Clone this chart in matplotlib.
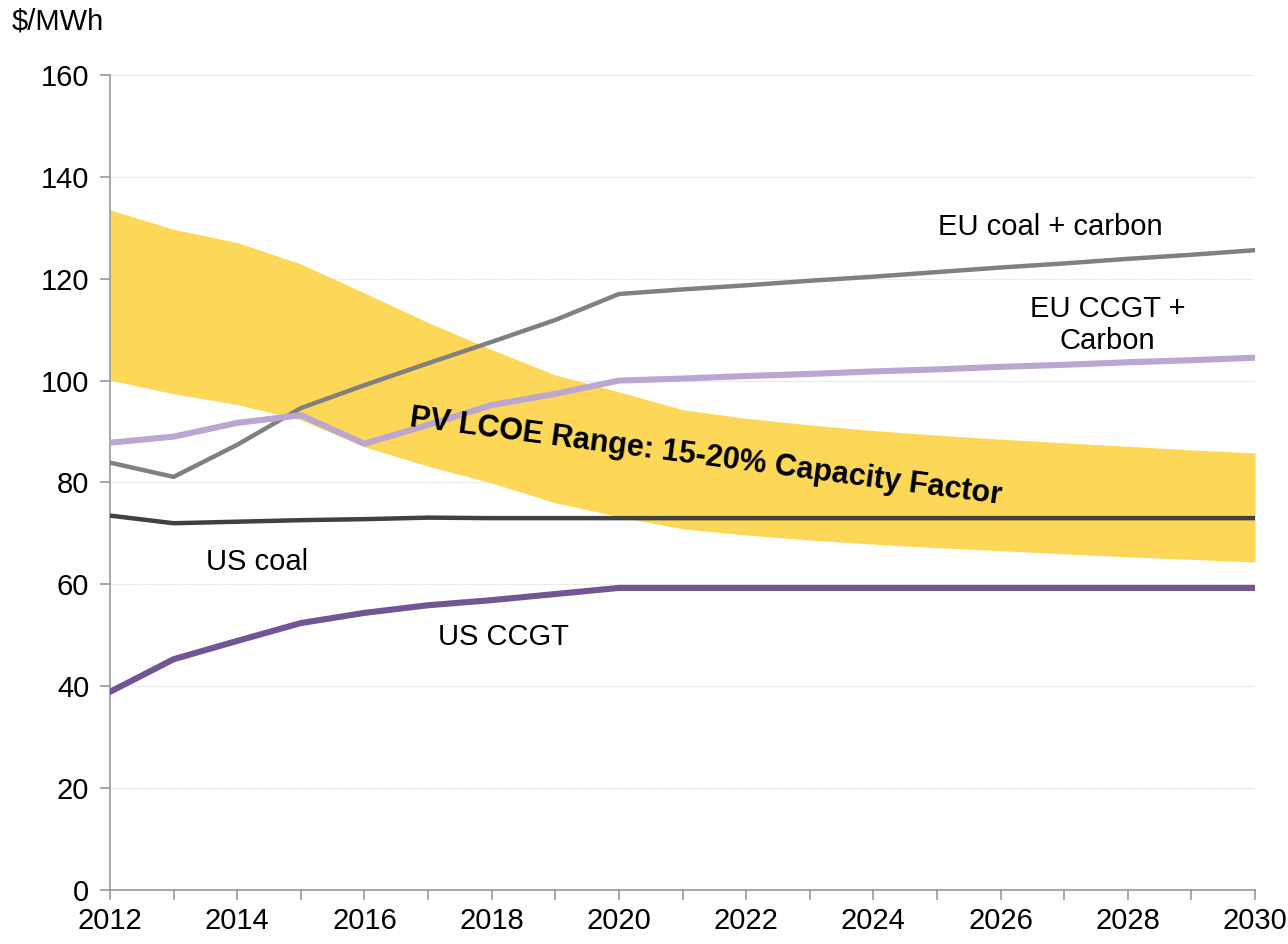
import matplotlib
matplotlib.use('Agg')
import matplotlib.pyplot as plt

plt.rcParams['font.family'] = ['Liberation Sans', 'DejaVu Sans']

years = list(range(2012, 2031))

# PV LCOE band (15-20% capacity factor)
pv_high = [133.5, 129.7, 127.1, 122.9, 117.2, 111.4, 106.1, 101.1, 97.8,
           94.3, 92.6, 91.3, 90.2, 89.3, 88.5, 87.8, 87.1, 86.4, 85.8]
pv_low = [100.1, 97.4, 95.3, 92.3, 87.0, 83.2, 79.9, 76.0, 73.3,
          70.9, 69.7, 68.7, 67.9, 67.2, 66.6, 66.0, 65.4, 64.9, 64.4]

eu_coal = [83.9, 81.1, 87.4, 94.6, 99.1, 103.4, 107.6, 111.9, 117.0,
           117.9, 118.7, 119.6, 120.4, 121.3, 122.2, 123.0, 123.9, 124.7, 125.6]
eu_ccgt = [87.8, 89.0, 91.7, 93.2, 87.6, 91.3, 95.2, 97.4, 100.0,
           100.4, 100.9, 101.3, 101.8, 102.2, 102.7, 103.1, 103.6, 104.0, 104.5]
us_coal = [73.5, 72.0, 72.3, 72.6, 72.8, 73.1, 73.0, 73.0, 73.0,
           73.0, 73.0, 73.0, 73.0, 73.0, 73.0, 73.0, 73.0, 73.0, 73.0]
us_ccgt = [38.9, 45.3, 48.9, 52.4, 54.4, 55.9, 56.9, 58.1, 59.3,
           59.3, 59.3, 59.3, 59.3, 59.3, 59.3, 59.3, 59.3, 59.3, 59.3]

fig = plt.figure(figsize=(12.88, 9.44), dpi=100)
ax = fig.add_axes([0.0854, 0.0572, 0.8890, 0.8634])

ax.fill_between(years, pv_low, pv_high, color='#FDD757', linewidth=0, zorder=1)
ax.plot(years, eu_coal, color='#808080', lw=3.2, zorder=3)
ax.plot(years, eu_ccgt, color='#BBA6D1', lw=4.4, zorder=3)
ax.plot(years, us_coal, color='#404040', lw=3.2, zorder=3)
ax.plot(years, us_ccgt, color='#725594', lw=4.4, zorder=3)

ax.set_xlim(2012, 2030)
ax.set_ylim(0, 160)
ax.set_xticks(range(2012, 2031, 2))
ax.set_xticks(years, minor=True)
ax.set_yticks(range(0, 161, 20))
ax.grid(axis='y', color='#D9D9D9', lw=0.8, ls=(0, (1, 1)), zorder=0)
ax.set_axisbelow(True)

for s in ['top', 'right']:
    ax.spines[s].set_visible(False)
for s in ['left', 'bottom']:
    ax.spines[s].set_color('#989898')
    ax.spines[s].set_linewidth(1.2)

ax.tick_params(axis='both', which='both', colors='#989898', labelcolor='black',
               labelsize=21, length=7, width=1.2)
ax.tick_params(axis='x', pad=5)
ax.tick_params(axis='y', pad=8)

fig.text(0.009, 0.977, '$/MWh', fontsize=21, va='center', ha='left')

ax.text(2026.78, 130.2, 'EU coal + carbon', fontsize=21, ha='center', va='center')
ax.text(2027.68, 110.9, 'EU CCGT +\nCarbon', fontsize=21, ha='center', va='center',
        linespacing=1.2)
ax.text(2014.31, 64.4, 'US coal', fontsize=21, ha='center', va='center')
ax.text(2018.19, 49.7, 'US CCGT', fontsize=21, ha='center', va='center')
ax.text(2021.36, 85.0, 'PV LCOE Range: 15-20% Capacity Factor', fontsize=22,
        fontweight='bold', ha='center', va='center', rotation=-7.5,
        rotation_mode='anchor', zorder=5)

fig.savefig('out.png', dpi=100)
